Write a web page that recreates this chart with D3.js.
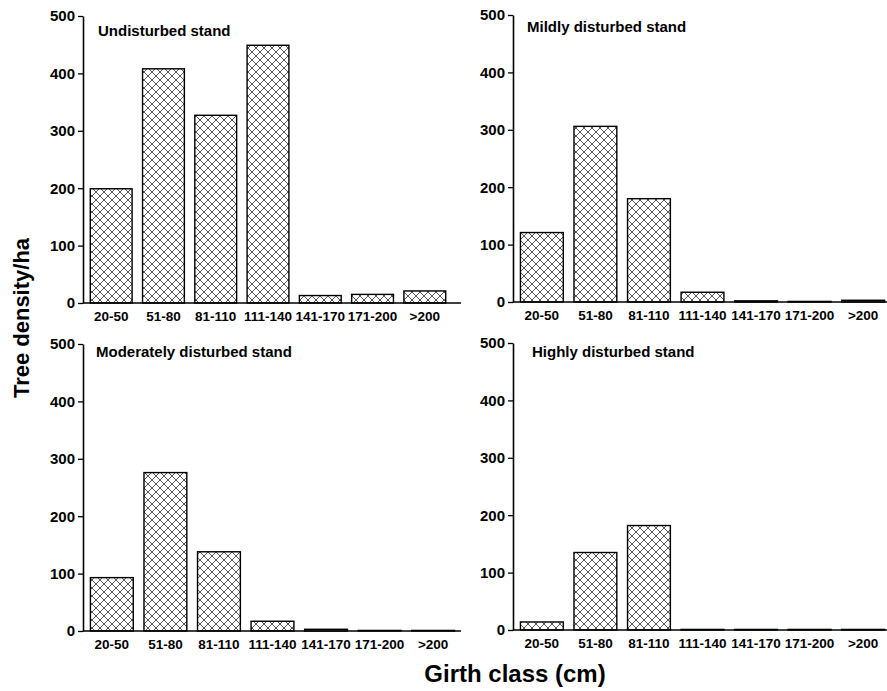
<!DOCTYPE html>
<html>
<head>
<meta charset="utf-8">
<script src="https://cdn.jsdelivr.net/npm/d3@7"></script>
<style>
  body { margin: 0; background: #fff; }
  text { font-family: "Liberation Sans", Arial, sans-serif; font-weight: bold; fill: #000; }
</style>
</head>
<body>
<script>
// girth classes and tree density per panel
var classes = ["20-50", "51-80", "81-110", "111-140", "141-170", "171-200", ">200"];
var titles = ["Undisturbed stand", "Mildly disturbed stand", "Moderately disturbed stand", "Highly disturbed stand"];
var undisturbed = [199, 408, 327, 449, 13, 15, 21];
var mildly = [121, 306, 180, 17, 2, 1, 3];
var moderately = [93, 276, 138, 17, 3, 1, 1];
var highly = [14, 135, 182, 1, 1, 1, 1];
var yTicks = [0, 100, 200, 300, 400, 500];

var series = [undisturbed, mildly, moderately, highly];

// panel frames (pixels)
var panels = [
  { x0: 84, x1: 452, axisEnd: 461, yTop: 16, yBot: 303, tx: 98, ty: 36 },
  { x0: 514, x1: 891, axisEnd: 887, yTop: 15, yBot: 302, tx: 527, ty: 32 },
  { x0: 84, x1: 461, axisEnd: 461, yTop: 344, yBot: 631, tx: 96, ty: 357 },
  { x0: 514, x1: 891, axisEnd: 887, yTop: 343, yBot: 630, tx: 532, ty: 357 }
];

var svg = d3.select("body").append("svg")
    .attr("width", 887)
    .attr("height", 691);

// crosshatch fill
var pat = svg.append("defs").append("pattern")
    .attr("id", "hatch")
    .attr("patternUnits", "userSpaceOnUse")
    .attr("width", 8)
    .attr("height", 8);
pat.append("rect").attr("width", 8).attr("height", 8).attr("fill", "#fff");
pat.append("path")
    .attr("d", "M0,0L8,8M8,0L0,8M-1,7L1,9M7,-1L9,1M-1,1L1,-1M7,9L9,7")
    .attr("stroke", "#444")
    .attr("stroke-width", 0.9);

panels.forEach(function(p, k) {
  var g = svg.append("g");

  var x = d3.scaleBand()
      .domain(classes)
      .range([p.x0, p.x1])
      .paddingInner(0.2)
      .paddingOuter(0.12);

  var y = d3.scaleLinear()
      .domain([0, 500])
      .range([p.yBot, p.yTop]);

  // bars
  g.selectAll("rect.bar")
    .data(series[k])
    .enter()
    .append("rect")
    .attr("class", "bar")
    .attr("x", function(d, i) { return x(classes[i]); })
    .attr("y", function(d) { return y(d); })
    .attr("width", x.bandwidth())
    .attr("height", function(d) { return y(0) - y(d); })
    .attr("fill", "url(#hatch)")
    .attr("stroke", "#000")
    .attr("stroke-width", 1.4);

  // y axis
  var ya = g.append("g")
      .attr("transform", "translate(" + (p.x0 - 1) + ",0)")
      .call(d3.axisLeft(y).tickValues(yTicks).tickSize(5).tickSizeOuter(0).tickPadding(3));
  ya.select(".domain").attr("stroke-width", 1.6);
  ya.selectAll(".tick line").attr("stroke-width", 1.3);
  ya.selectAll("text").style("font-size", "15px");

  // x axis
  var xa = g.append("g")
      .attr("transform", "translate(0," + p.yBot + ")")
      .call(d3.axisBottom(x).tickSize(0).tickPadding(8));
  xa.select(".domain").remove();
  xa.selectAll("text").style("font-size", "13.5px");

  g.append("line")
    .attr("x1", p.x0 - 1).attr("x2", p.axisEnd)
    .attr("y1", p.yBot).attr("y2", p.yBot)
    .attr("stroke", "#000")
    .attr("stroke-width", 1.6);

  g.append("text")
    .attr("x", p.tx)
    .attr("y", p.ty)
    .style("font-size", "15px")
    .text(titles[k]);
});

svg.append("text")
  .attr("transform", "translate(29,318) rotate(-90)")
  .attr("text-anchor", "middle")
  .style("font-size", "22px")
  .text("Tree density/ha");

svg.append("text")
  .attr("x", 515)
  .attr("y", 682)
  .attr("text-anchor", "middle")
  .style("font-size", "24px")
  .text("Girth class (cm)");
</script>
</body>
</html>
